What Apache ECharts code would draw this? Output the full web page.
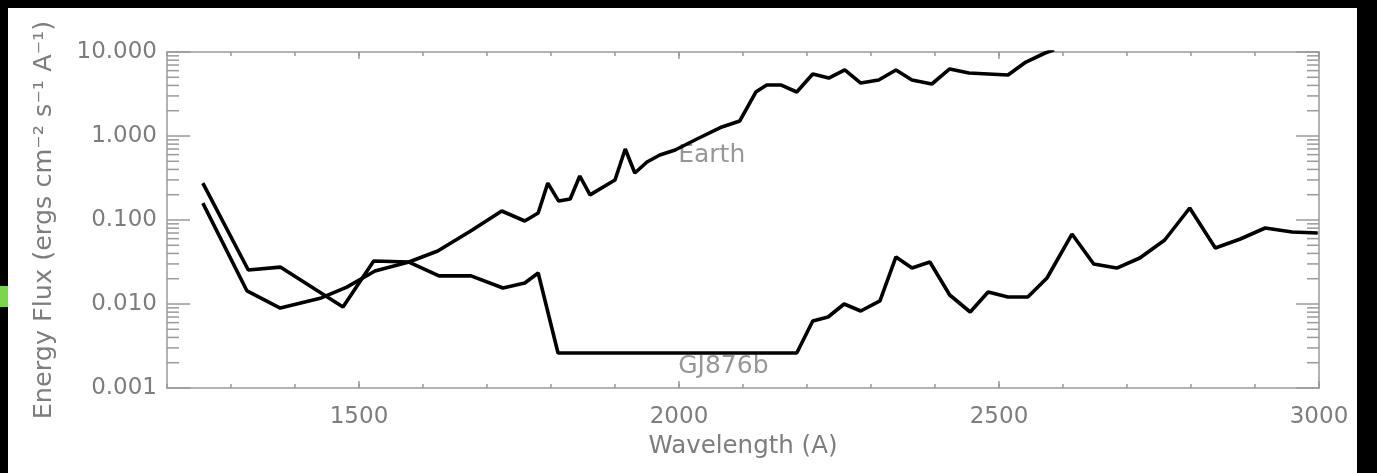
<!DOCTYPE html>
<html>
<head>
<meta charset="utf-8">
<script src="https://cdn.jsdelivr.net/npm/echarts@6/dist/echarts.min.js"></script>
<style>
  html, body { margin: 0; padding: 0; background: #000; }
  #chart { width: 1377px; height: 473px; }
</style>
</head>
<body>
<div id="chart"></div>
<script>
// Wavelength (Å) and energy flux (ergs cm^-2 s^-1 A^-1) for each spectrum
const earthWavelength = [1256, 1325, 1377, 1441, 1481, 1525, 1578, 1623, 1677, 1723, 1759, 1780,
  1795, 1812, 1830, 1845, 1861, 1900, 1916, 1931, 1950, 1970, 1994, 2028, 2067, 2095,
  2120, 2137, 2159, 2184, 2209, 2234, 2259, 2284, 2312, 2339, 2364, 2395, 2423, 2453,
  2514, 2542, 2572, 2586];
const earthFlux = [0.159, 0.0143, 0.00895, 0.0118, 0.0159, 0.0247, 0.0316, 0.0428, 0.076, 0.128, 0.0973, 0.121,
  0.275, 0.168, 0.178, 0.334, 0.199, 0.299, 0.70, 0.363, 0.49, 0.594, 0.681, 0.921, 1.28, 1.51,
  3.34, 4.05, 4.05, 3.34, 5.47, 4.90, 6.11, 4.27, 4.64, 6.11, 4.64, 4.16, 6.28, 5.62,
  5.32, 7.60, 9.73, 10.6];

const gjWavelength = [1256, 1327, 1377, 1475, 1523, 1578, 1625, 1675, 1725, 1759, 1780, 1811,
  2184, 2209, 2233, 2258, 2284, 2314, 2339, 2364, 2392, 2423, 2455, 2483, 2514, 2545,
  2575, 2614, 2648, 2684, 2720, 2759, 2798, 2838, 2877, 2916, 2958, 2998];
const gjFlux = [0.275, 0.0254, 0.0275, 0.0092, 0.0325, 0.0316, 0.0216, 0.0216, 0.0155, 0.0178, 0.0234, 0.00261,
  0.00261, 0.00628, 0.0070, 0.0100, 0.00826, 0.0109, 0.0363, 0.0268, 0.0316, 0.0128, 0.00803, 0.0139, 0.0121, 0.0121,
  0.0204, 0.0681, 0.0299, 0.0268, 0.0353, 0.0578, 0.139, 0.0464, 0.0594, 0.0803, 0.0720, 0.070];

// In-plot spectrum names and where they sit
const labelNames = ['Earth', 'GJ876b'];
const labelWavelength = [1998, 1998];
const labelFlux = [0.594, 0.00178];

// Axis ranges and tick positions
const xMin = 1200, xMax = 3000;
const xLabelled = [1500, 2000, 2500, 3000];
const yMin = 0.001, yMax = 10;
const yMinorTicks = [0.002, 0.003, 0.004, 0.005, 0.006, 0.007, 0.008, 0.009,
  0.02, 0.03, 0.04, 0.05, 0.06, 0.07, 0.08, 0.09,
  0.2, 0.3, 0.4, 0.5, 0.6, 0.7, 0.8, 0.9,
  2, 3, 4, 5, 6, 7, 8, 9];

const FONT = 'DejaVu Sans';
const TEXT = '#7d7d7d';
const AXIS = '#9a9a9a';

const zip = (xs, ys) => xs.map((x, i) => [x, ys[i]]);

const chart = echarts.init(document.getElementById('chart'), null, { renderer: 'canvas' });

// Short tick marks drawn inward on both sides of the frame
function minorYTick(params, api) {
  const p = api.coord([xMin, api.value(1)]);
  const cs = params.coordSys;
  const style = { stroke: AXIS, lineWidth: 1.5 };
  return {
    type: 'group',
    children: [
      { type: 'line', shape: { x1: cs.x, y1: p[1], x2: cs.x + 12, y2: p[1] }, style },
      { type: 'line', shape: { x1: cs.x + cs.width - 12, y1: p[1], x2: cs.x + cs.width, y2: p[1] }, style }
    ]
  };
}
function majorXTick(params, api) {
  const p = api.coord([api.value(0), yMin]);
  const cs = params.coordSys;
  const style = { stroke: AXIS, lineWidth: 1.5 };
  return {
    type: 'group',
    children: [
      { type: 'line', shape: { x1: p[0], y1: cs.y + cs.height, x2: p[0], y2: cs.y + cs.height - 7 }, style },
      { type: 'line', shape: { x1: p[0], y1: cs.y, x2: p[0], y2: cs.y + 7 }, style }
    ]
  };
}

const yAxisBase = {
  type: 'log',
  logBase: 10,
  min: yMin,
  max: yMax,
  axisLine: { show: true, lineStyle: { color: AXIS, width: 1.5 } },
  axisTick: { show: true, inside: true, length: 23, lineStyle: { color: AXIS, width: 1.5 } },
  splitLine: { show: false }
};
const xAxisBase = {
  type: 'value',
  min: xMin,
  max: xMax,
  interval: 100,
  axisLine: { show: true, onZero: false, lineStyle: { color: AXIS, width: 1.5 } },
  axisTick: { show: true, inside: true, length: 4, lineStyle: { color: AXIS, width: 1.5 } },
  splitLine: { show: false }
};

chart.setOption({
  backgroundColor: '#000',
  animation: false,
  textStyle: { fontFamily: FONT },
  graphic: [
    { type: 'rect', z: -10, shape: { x: 8, y: 8, width: 1349, height: 465 }, style: { fill: '#fff' } },
    { type: 'rect', z: -10, shape: { x: 0, y: 286, width: 8, height: 21 }, style: { fill: '#7cd64a' } }
  ],
  grid: { left: 167, top: 52, right: 58, bottom: 85, containLabel: false },
  xAxis: [
    Object.assign({}, xAxisBase, {
      position: 'bottom',
      name: 'Wavelength (A)',
      nameLocation: 'middle',
      nameGap: 46,
      nameTextStyle: { color: TEXT, fontSize: 24.5, fontFamily: FONT },
      axisLabel: {
        color: TEXT, fontSize: 23, fontFamily: FONT, margin: 18,
        formatter: v => (xLabelled.indexOf(v) >= 0 ? String(v) : '')
      }
    }),
    Object.assign({}, xAxisBase, { position: 'top', axisLabel: { show: false } })
  ],
  yAxis: [
    Object.assign({}, yAxisBase, {
      position: 'left',
      name: 'Energy Flux (ergs cm\u207B\u00B2 s\u207B\u00B9 A\u207B\u00B9)',
      nameLocation: 'middle',
      nameRotate: 90,
      nameGap: 110,
      nameTextStyle: { color: TEXT, fontSize: 25.5, fontFamily: FONT },
      axisLabel: { color: TEXT, fontSize: 23, fontFamily: FONT, margin: 10, formatter: v => v.toFixed(3) }
    }),
    Object.assign({}, yAxisBase, { position: 'right', axisLabel: { show: false } })
  ],
  series: [
    {
      name: 'Earth', type: 'line', xAxisIndex: 0, yAxisIndex: 0,
      data: zip(earthWavelength, earthFlux), showSymbol: false, symbol: 'none', clip: true,
      lineStyle: { color: '#000', width: 3.6 }, z: 5
    },
    {
      name: 'GJ876b', type: 'line', xAxisIndex: 0, yAxisIndex: 0,
      data: zip(gjWavelength, gjFlux), showSymbol: false, symbol: 'none', clip: true,
      lineStyle: { color: '#000', width: 3.6 }, z: 5
    },
    {
      type: 'scatter', xAxisIndex: 0, yAxisIndex: 0, symbolSize: 1,
      itemStyle: { color: 'rgba(0,0,0,0)' },
      data: labelNames.map((n, i) => ({ value: [labelWavelength[i], labelFlux[i]], name: n })),
      label: {
        show: true, position: 'right', distance: 0, formatter: p => p.name,
        color: TEXT, fontSize: 25, fontFamily: FONT
      },
      z: 4
    },
    {
      type: 'custom', xAxisIndex: 0, yAxisIndex: 0, renderItem: minorYTick, silent: true,
      data: yMinorTicks.map(v => [xMin, v]), z: 1
    },
    {
      type: 'custom', xAxisIndex: 0, yAxisIndex: 0, renderItem: majorXTick, silent: true,
      data: xLabelled.map(v => [v, yMin]), z: 1
    }
  ]
});
</script>
</body>
</html>
